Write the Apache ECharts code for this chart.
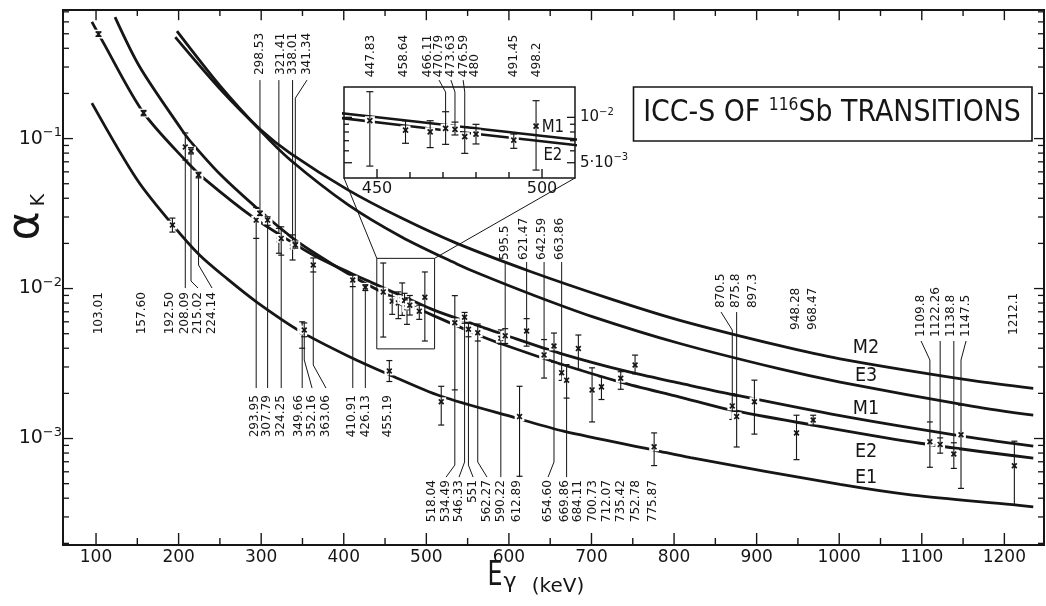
<!DOCTYPE html>
<html>
<head>
<meta charset="utf-8">
<script src="https://cdn.jsdelivr.net/npm/echarts@6/dist/echarts.min.js"></script>
<style>
html,body{margin:0;padding:0;background:#ffffff;}
#chart{width:1046px;height:606px;}
</style>
</head>
<body>
<div id="chart"></div>
<script>
/* ---------------- values ---------------- */
const energies = [103.01,157.60,192.50,208.09,215.02,224.14,293.95,298.53,307.79,321.41,324.25,338.01,341.34,349.66,352.16,363.06,410.91,426.13,447.83,455.19,458.64,466.11,470.79,473.63,476.59,480,491.45,498.2,518.04,534.49,546.33,551,562.27,590.22,595.5,612.89,621.47,642.59,654.60,663.86,669.86,684.11,700.73,712.07,735.42,752.78,775.87,870.5,875.8,897.3,948.28,968.47,1109.8,1122.26,1138.8,1147.5,1212.1];
const energyLabels = ['103.01','157.60','192.50','208.09','215.02','224.14','293.95','298.53','307.79','321.41','324.25','338.01','341.34','349.66','352.16','363.06','410.91','426.13','447.83','455.19','458.64','466.11','470.79','473.63','476.59','480','491.45','498.2','518.04','534.49','546.33','551','562.27','590.22','595.5','612.89','621.47','642.59','654.60','663.86','669.86','684.11','700.73','712.07','735.42','752.78','775.87','870.5','875.8','897.3','948.28','968.47','1109.8','1122.26','1138.8','1147.5','1212.1'];
const alphaK = [0.497,0.148,0.0265,0.0878,0.0826,0.0571,0.0286,0.0317,0.0286,0.0211,0.0216,0.0190,0.0195,0.00515,0.00529,0.01435,0.0114,0.0102,0.0095,0.00282,0.00824,0.00802,0.00845,0.00832,0.00744,0.00775,0.00707,0.00875,0.00176,0.00591,0.00643,0.00535,0.00507,0.00466,0.00485,0.00140,0.00521,0.00361,0.00414,0.00275,0.00245,0.00398,0.00211,0.00221,0.00252,0.00309,0.00088,0.00165,0.00140,0.00176,0.00109,0.00133,0.000952,0.000914,0.000789,0.00106,0.000659];
const errLow = [0.480,0.142,0.0238,0.0719,0.0790,0.0547,0.0216,0.0307,0.0264,0.0172,0.0167,0.0155,0.0186,0.00400,0.00477,0.0129,0.0103,0.0097,0.00475,0.00240,0.00673,0.00630,0.00662,0.00764,0.00577,0.00666,0.00623,0.00447,0.00123,0.00211,0.00587,0.00477,0.00447,0.00426,0.00430,0.00056,0.00413,0.00253,0.00323,0.00244,0.00186,0.00289,0.00129,0.00182,0.00213,0.00270,0.00066,0.00134,0.000878,0.00107,0.000723,0.00122,0.000643,0.000799,0.000632,0.000465,0.00036];
const errHigh = [0.515,0.154,0.0295,0.109,0.0870,0.0596,0.0347,0.0328,0.0301,0.0252,0.0258,0.0228,0.0204,0.00600,0.00590,0.0160,0.0123,0.0106,0.0148,0.00331,0.0095,0.0095,0.0109,0.0093,0.00867,0.00899,0.00775,0.0129,0.00223,0.00897,0.00693,0.00590,0.00580,0.00530,0.00540,0.00223,0.00630,0.00457,0.00505,0.00311,0.00311,0.00490,0.00296,0.00258,0.00279,0.00360,0.00109,0.00199,0.00192,0.00245,0.00143,0.00143,0.00129,0.00101,0.000937,0.00167,0.00096];

const curveE1 = [[95,0.1725],[150,0.0529],[192,0.0269],[225,0.0168],[259,0.0116],[295,0.0081],[347,0.0052],[405,0.00355],[454,0.00268],[517,0.00192],[611,0.00136],[666,0.00112],[777,0.000835],[820,0.000745],[1001,0.000495],[1089,0.00042],[1210,0.000362],[1235,0.00035]];
const curveE2 = [[123,0.645],[153,0.30],[204,0.114],[214,0.0962],[250,0.058],[295,0.0343],[335,0.0224],[365,0.0172],[408,0.0123],[440,0.00985],[475,0.00800],[510,0.00655],[565,0.00485],[595,0.0042],[658,0.0032],[735,0.00238],[807,0.00189],[868,0.00155],[968,0.00123],[1098,0.00093],[1235,0.00074]];
const curveM1 = [[95,0.60],[107,0.455],[157,0.150],[211,0.069],[232,0.0535],[290,0.0299],[335,0.0207],[365,0.0165],[408,0.0127],[440,0.0106],[475,0.0087],[510,0.00715],[565,0.0056],[595,0.0049],[662,0.0037],[743,0.0028],[807,0.00234],[868,0.00198],[1001,0.00142],[1143,0.00105],[1235,0.00089]];
const curveE3 = [[198,0.52],[250,0.225],[299,0.113],[335,0.0723],[405,0.0363],[470,0.0221],[537,0.0146],[565,0.0125],[626,0.0092],[700,0.00653],[807,0.0043],[928,0.00291],[1001,0.00238],[1162,0.00164],[1235,0.00143]];
const curveM2 = [[196,0.475],[250,0.215],[299,0.115],[335,0.080],[405,0.0455],[470,0.0295],[537,0.0200],[626,0.0130],[722,0.00857],[807,0.00614],[928,0.00416],[1001,0.0034],[1162,0.00243],[1235,0.00216]];
const curveNames = ['M2','E3','M1','E2','E1'];

const xTicks = [100,150,200,250,300,350,400,450,500,550,600,650,700,750,800,850,900,950,1000,1050,1100,1150,1200];
const xTickLabels = [100,200,300,400,500,600,700,800,900,1000,1100,1200];
const yTicks = [0.0002,0.0003,0.0004,0.0005,0.0006,0.0007,0.0008,0.0009,0.001,0.002,0.003,0.004,0.005,0.006,0.007,0.008,0.009,0.01,0.02,0.03,0.04,0.05,0.06,0.07,0.08,0.09,0.1,0.2,0.3,0.4,0.5,0.6,0.7];
const yTickLabels = [0.001,0.01,0.1];
const insetXRange = [440,510];
const insetYRange = [0.00396,0.0159];
const insetXTicks = [450,460,470,480,490,500];
const insetXTickLabels = [450,500];
const insetYTicks = [0.005,0.006,0.007,0.008,0.009,0.01];
const insetYTickLabels = [0.005,0.01];
const titleText = 'ICC-S OF {s|116}Sb TRANSITIONS';

/* ---------------- layout (annotation placement) ---------------- */
const X_MIN = 60, X_MAX = 1248, Y_MIN = 0.000195, Y_MAX = 0.72;
const labelX = [103.6,155.7,189.6,207.8,223.5,240.5,292.6,298.6,307.1,323.0,324.0,338.6,355.5,345.9,361.6,378.5,410.0,427.0,448.2,453.6,458.2,465.2,468.8,472.4,476.1,479.7,491.5,498.5,506.9,523.9,539.6,556.6,573.5,590.5,595.3,609.9,618.4,640.2,647.4,662.0,668.0,683.8,701.9,718.9,735.8,754.0,774.6,856.9,875.1,895.7,947.8,967.2,1099.1,1117.3,1135.5,1153.6,1211.8];
const labelGroup = ['L','L','L','L','L','L','B1','A','B1','A','B1','A','A','B1','B1','B1','B1','B1','I','B1','I','I','I','I','I','I','I','I','B2','B2','B2','B2','B2','B2','C','B2','C','C','B2','C','B2','B2','B2','B2','B2','B2','B2','R1','R1','R1','R2','R2','R3','R3','R3','R3','R4'];
const labelLead = [0,0,0,1,[0.01008,0.01122],[0.01008,0.01435],1,1,1,1,1,1,[0.2455,0.186],1,[0.00217,0.00334],[0.00217,0.00309],1,1,0,0,0,0,[0.01766,0.01472],[0.01766,0.01472],[0.01766,0.01472],0,0,0,0,[0.000553,0.000665],[0.000553,0.000697],[0.000553,0.000665],[0.000553,0.000697],1,1,1,1,1,[0.000553,0.000697],1,1,0,0,0,0,0,0,[0.00697,0.00529],1,0,0,0,[0.00447,0.00334],1,1,[0.00447,0.00334],0];
const GROUPS = {
  A:{side:'up',anchor:0.265,lead:0.2455},
  C:{side:'up',anchor:0.01549,lead:0.01503},
  R1:{side:'up',anchor:0.00741,lead:0.00697},
  R2:{side:'up',anchor:0.00529,lead:0.00529},
  R3:{side:'up',anchor:0.00475,lead:0.00447},
  R4:{side:'up',anchor:0.0049,lead:0.0049},
  L:{side:'down',anchor:0.00948,lead:0.01008},
  B1:{side:'down',anchor:0.00195,lead:0.00217},
  B2:{side:'down',anchor:0.000529,lead:0.000553},
  I:{side:'up',anchor:0.01848,lead:0.01766}
};
const curveLabelAt = [[1032.5,0.00401],[1032.5,0.00261],[1032.5,0.00157],[1032.5,0.000813],[1032.5,0.000545]];
const insetCurveLabelAt = [[503.3,0.00862],[503.3,0.00562]];

/* ---------------- drawing ---------------- */
const INK = '#161616';
const FONT = 'DejaVu Sans';
function seg(x1,y1,x2,y2,w){return {type:'line',shape:{x1:x1,y1:y1,x2:x2,y2:y2},style:{stroke:INK,lineWidth:w||1}};}
function isPow10(v){const l=Math.log10(v);return Math.abs(l-Math.round(l))<1e-6;}
function near(list,v){return list.some(function(t){return Math.abs(t-v)<=Math.abs(t)*1e-6;});}
function powText(v){
  const e = Math.floor(Math.log10(v)+1e-9);
  const m = Math.round(v/Math.pow(10,e));
  return (m===1?'':m+'·')+'{b|10}{s|−'+(-e)+'}';
}

function xTickRenderer(majorLen,minorLen,isMajor,sides){
  return function(params,api){
    const cs=params.coordSys;const v=api.value(0);
    const px=api.coord([v,api.value(1)])[0];
    const L=isMajor(v)?majorLen:minorLen;const ch=[];
    if(sides.indexOf('b')>=0) ch.push(seg(px,cs.y+cs.height,px,cs.y+cs.height-L,1.4));
    if(sides.indexOf('t')>=0) ch.push(seg(px,cs.y,px,cs.y+L*0.85,1.4));
    return {type:'group',children:ch};
  };
}
function yTickRenderer(majorLen,minorLen,isMajor,sides,labels){
  return function(params,api){
    const cs=params.coordSys;const v=api.value(1);
    const py=api.coord([api.value(0),v])[1];
    const L=isMajor(v)?majorLen:minorLen;const ch=[];
    if(sides.indexOf('l')>=0) ch.push(seg(cs.x,py,cs.x+L,py,1.3));
    if(sides.indexOf('r')>=0) ch.push(seg(cs.x+cs.width,py,cs.x+cs.width-L,py,1.3));
    if(labels && near(labels,v)){
      ch.push({type:'text',x:cs.x+cs.width+5,y:py,style:{text:powText(v),fill:INK,fontSize:15,fontFamily:FONT,align:'left',verticalAlign:'middle',
        rich:{b:{fontSize:15,fontFamily:FONT,fill:INK,lineHeight:20},s:{fontSize:10,fontFamily:FONT,fill:INK,lineHeight:10,verticalAlign:'top'}}}});
    }
    return {type:'group',children:ch};
  };
}
function pointRenderer(cap,mk){
  return function(params,api){
    const e=api.value(0);
    const p=api.coord([e,api.value(1)]);const lo=api.coord([e,api.value(2)]);const hi=api.coord([e,api.value(3)]);
    return {type:'group',children:[
      {type:'rect',shape:{x:p[0]-mk-2.5,y:p[1]-mk-2,width:2*mk+5,height:2*mk+4},style:{fill:'#ffffff',stroke:null}},
      seg(p[0],hi[1],p[0],lo[1],1.1),
      seg(p[0]-cap,hi[1],p[0]+cap,hi[1],1.2),
      seg(p[0]-cap,lo[1],p[0]+cap,lo[1],1.2),
      seg(p[0]-mk,p[1]-mk,p[0]+mk,p[1]+mk,1.7),
      seg(p[0]-mk,p[1]+mk,p[0]+mk,p[1]-mk,1.7)
    ]};
  };
}
function labelRenderer(indexList){
  return function(params,api){
    const i=indexList[params.dataIndex];
    const g=GROUPS[labelGroup[i]];
    const lx=labelX[i];
    const a=api.coord([lx,g.anchor]);
    const ch=[{type:'text',x:a[0],y:a[1],rotation:Math.PI/2,scaleX:0.93,
      style:{text:energyLabels[i],fill:INK,fontSize:13,fontFamily:FONT,align:g.side==='up'?'left':'right',verticalAlign:'middle'}}];
    const lead=labelLead[i];
    if(lead){
      const e=energies[i];
      const end=g.side==='up'?errHigh[i]:errLow[i];
      const pts=(lead===1)?[[e,g.lead],[e,end]]:[[lx,g.lead],[lx,lead[0]],[e,lead[1]],[e,end]];
      ch.push({type:'polyline',shape:{points:pts.map(function(q){return api.coord(q);})},style:{stroke:INK,lineWidth:1,fill:null}});
    }
    return {type:'group',children:ch};
  };
}
function textAtRenderer(texts,size,scaleX){
  return function(params,api){
    const p=api.coord([api.value(0),api.value(1)]);
    return {type:'text',x:p[0],y:p[1],scaleX:scaleX,style:{text:texts[params.dataIndex],fill:INK,fontSize:size,fontFamily:FONT,align:'center',verticalAlign:'middle'}};
  };
}

const mainLabelIdx=[],insetLabelIdx=[],insetPointIdx=[];
energies.forEach(function(e,i){
  if(labelGroup[i]==='I') insetLabelIdx.push(i); else mainLabelIdx.push(i);
  if(e>=insetXRange[0]&&e<=insetXRange[1]&&alphaK[i]>=insetYRange[0]&&alphaK[i]<=insetYRange[1]) insetPointIdx.push(i);
});
const pointData=energies.map(function(e,i){return [e,alphaK[i],errLow[i],errHigh[i]];});

function curveSeries(name,data,axis,w){
  return {type:'line',name:name,data:data,xAxisIndex:axis,yAxisIndex:axis,smooth:0.3,showSymbol:false,symbol:'none',
    lineStyle:{color:INK,width:w},clip:true,silent:true,z:3};
}

function buildOption(connectors){
  return {
    animation:false,
    backgroundColor:'#ffffff',
    grid:[
      {left:63,top:10,right:2,bottom:61,show:true,borderColor:INK,borderWidth:2,backgroundColor:'rgba(0,0,0,0)',containLabel:false,outerBoundsMode:'none'},
      {left:344,top:87,width:231,height:91,show:true,borderColor:INK,borderWidth:1.5,backgroundColor:'#ffffff',containLabel:false,outerBoundsMode:'none'}
    ],
    xAxis:[
      {type:'value',gridIndex:0,min:X_MIN,max:X_MAX,interval:10,axisLine:{show:false},axisTick:{show:false},splitLine:{show:false},
        axisLabel:{margin:4,color:INK,fontSize:17,fontFamily:FONT,showMinLabel:false,showMaxLabel:false,
          formatter:function(v){return near(xTickLabels,v)?String(Math.round(v)):'';}}},
      {type:'value',gridIndex:1,min:insetXRange[0],max:insetXRange[1],interval:10,axisLine:{show:false},axisTick:{show:false},splitLine:{show:false},
        axisLabel:{margin:3,color:INK,fontSize:16,fontFamily:FONT,showMinLabel:false,showMaxLabel:false,
          formatter:function(v){return near(insetXTickLabels,v)?String(Math.round(v)):'';}}}
    ],
    yAxis:[
      {type:'log',logBase:10,gridIndex:0,min:Y_MIN,max:Y_MAX,axisLine:{show:false},axisTick:{show:false},splitLine:{show:false},minorTick:{show:false},
        axisLabel:{margin:1,showMinLabel:false,showMaxLabel:false,
          formatter:function(v){return near(yTickLabels,v)?powText(v):'';},
          rich:{b:{fontSize:19,fontFamily:FONT,color:INK,lineHeight:24},s:{fontSize:13,fontFamily:FONT,color:INK,lineHeight:12,verticalAlign:'top'}}}},
      {type:'log',logBase:10,gridIndex:1,min:insetYRange[0],max:insetYRange[1],position:'right',axisLine:{show:false},axisTick:{show:false},splitLine:{show:false},axisLabel:{show:false}}
    ],
    series:[
      {type:'custom',name:'xticks',xAxisIndex:0,yAxisIndex:0,data:xTicks.map(function(v){return [v,Y_MIN];}),
        renderItem:xTickRenderer(12,7,function(v){return near(xTickLabels,v);},'bt'),silent:true,z:2},
      {type:'custom',name:'yticks',xAxisIndex:0,yAxisIndex:0,data:yTicks.map(function(v){return [X_MIN,v];}),
        renderItem:yTickRenderer(10,6,isPow10,'lr',null),silent:true,z:2},
      {type:'custom',name:'ixticks',xAxisIndex:1,yAxisIndex:1,data:insetXTicks.map(function(v){return [v,insetYRange[0]];}),
        renderItem:xTickRenderer(9,6,function(v){return near(insetXTickLabels,v);},'b'),silent:true,z:2},
      {type:'custom',name:'iyticks',xAxisIndex:1,yAxisIndex:1,data:insetYTicks.map(function(v){return [insetXRange[0],v];}),
        renderItem:yTickRenderer(8,5,function(v){return near(insetYTickLabels,v);},'lr',insetYTickLabels),silent:true,z:2,clip:false},
      curveSeries('E1',curveE1,0,2.8),
      curveSeries('E2',curveE2,0,2.8),
      curveSeries('M1',curveM1,0,2.8),
      curveSeries('E3',curveE3,0,2.8),
      curveSeries('M2',curveM2,0,2.8),
      curveSeries('E2 inset',curveE2,1,2.6),
      curveSeries('M1 inset',curveM1,1,2.6),
      {type:'custom',name:'zoomBox',xAxisIndex:0,yAxisIndex:0,data:[[insetXRange[0],insetYRange[0],insetXRange[1],insetYRange[1]]],
        renderItem:function(params,api){
          const a=api.coord([api.value(0),api.value(3)]);const b=api.coord([api.value(2),api.value(1)]);
          return {type:'rect',shape:{x:a[0],y:a[1],width:b[0]-a[0],height:b[1]-a[1]},style:{fill:null,stroke:INK,lineWidth:1}};
        },silent:true,z:4},
      {type:'custom',name:'points',xAxisIndex:0,yAxisIndex:0,data:pointData,encode:{x:0,y:1},renderItem:pointRenderer(3,2.4),silent:true,z:5},
      {type:'custom',name:'ipoints',xAxisIndex:1,yAxisIndex:1,data:insetPointIdx.map(function(i){return pointData[i];}),encode:{x:0,y:1},renderItem:pointRenderer(3.5,2.5),silent:true,z:5},
      {type:'custom',name:'labels',xAxisIndex:0,yAxisIndex:0,data:mainLabelIdx.map(function(i){return [labelX[i],GROUPS[labelGroup[i]].anchor];}),encode:{x:0,y:1},
        renderItem:labelRenderer(mainLabelIdx),silent:true,clip:false,z:6},
      {type:'custom',name:'ilabels',xAxisIndex:1,yAxisIndex:1,data:insetLabelIdx.map(function(i){return [labelX[i],GROUPS[labelGroup[i]].anchor];}),encode:{x:0,y:1},
        renderItem:labelRenderer(insetLabelIdx),silent:true,clip:false,z:6},
      {type:'custom',name:'curveNames',xAxisIndex:0,yAxisIndex:0,data:curveLabelAt,encode:{x:0,y:1},renderItem:textAtRenderer(curveNames,20,0.88),silent:true,z:6},
      {type:'custom',name:'icurveNames',xAxisIndex:1,yAxisIndex:1,data:insetCurveLabelAt,encode:{x:0,y:1},renderItem:textAtRenderer(['M1','E2'],17,0.88),silent:true,z:6}
    ],
    graphic:[
      {id:'tbox',type:'rect',shape:{x:633.5,y:87,width:398.5,height:54},style:{fill:'#ffffff',stroke:INK,lineWidth:1.6},z:20},
      {id:'ttext',type:'text',x:832,y:113,scaleX:0.865,z:21,style:{text:titleText,fill:INK,fontSize:31,fontFamily:FONT,lineHeight:34,align:'center',verticalAlign:'middle',
        rich:{s:{fontSize:18,fontFamily:FONT,fill:INK,lineHeight:18,verticalAlign:'top'}}}},
      {id:'xE',type:'text',x:495,y:576,scaleX:0.7,z:21,style:{text:'E',fill:INK,fontSize:34,fontFamily:FONT,align:'center',verticalAlign:'middle'}},
      {id:'xg',type:'text',x:510,y:582,z:21,style:{text:'γ',fill:INK,fontSize:22,fontFamily:FONT,align:'center',verticalAlign:'middle'}},
      {id:'xu',type:'text',x:558,y:587,z:21,style:{text:'(keV)',fill:INK,fontSize:20,fontFamily:FONT,align:'center',verticalAlign:'middle'}},
      {id:'ya',type:'text',x:27,y:226,rotation:Math.PI/2,z:21,style:{text:'α',fill:INK,fontSize:44,fontFamily:FONT,align:'center',verticalAlign:'middle'}},
      {id:'yk',type:'text',x:39,y:200,rotation:Math.PI/2,z:21,style:{text:'K',fill:INK,fontSize:19,fontFamily:FONT,align:'center',verticalAlign:'middle'}}
    ].concat(connectors)
  };
}

const chart = echarts.init(document.getElementById('chart'),null,{renderer:'canvas'});
chart.setOption(buildOption([]));
const a0=chart.convertToPixel({xAxisIndex:0,yAxisIndex:0},[insetXRange[0],insetYRange[1]]);
const a1=chart.convertToPixel({xAxisIndex:0,yAxisIndex:0},[insetXRange[1],insetYRange[1]]);
const b0=chart.convertToPixel({xAxisIndex:1,yAxisIndex:1},[insetXRange[0],insetYRange[0]]);
const b1=chart.convertToPixel({xAxisIndex:1,yAxisIndex:1},[insetXRange[1],insetYRange[0]]);
chart.setOption(buildOption([
  {id:'c0',type:'line',z:4,shape:{x1:a0[0],y1:a0[1],x2:b0[0],y2:b0[1]},style:{stroke:INK,lineWidth:1}},
  {id:'c1',type:'line',z:4,shape:{x1:a1[0],y1:a1[1],x2:b1[0],y2:b1[1]},style:{stroke:INK,lineWidth:1}}
]),true);
</script>
</body>
</html>
